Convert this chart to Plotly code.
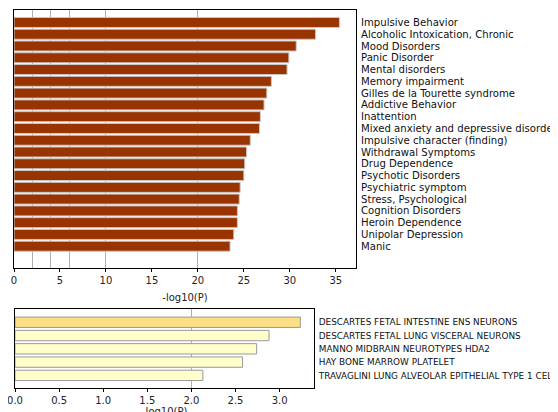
import plotly.graph_objects as go

# ---- data ----
top_terms = [
    "Impulsive Behavior", "Alcoholic Intoxication, Chronic", "Mood Disorders",
    "Panic Disorder", "Mental disorders", "Memory impairment",
    "Gilles de la Tourette syndrome", "Addictive Behavior", "Inattention",
    "Mixed anxiety and depressive disorder", "Impulsive character (finding)",
    "Withdrawal Symptoms", "Drug Dependence", "Psychotic Disorders",
    "Psychiatric symptom", "Stress, Psychological", "Cognition Disorders",
    "Heroin Dependence", "Unipolar Depression", "Manic",
]
top_values = [35.4, 32.8, 30.7, 29.9, 29.7, 28.0, 27.5, 27.2, 26.8, 26.7,
              25.7, 25.3, 25.1, 25.0, 24.6, 24.5, 24.3, 24.3, 23.9, 23.5]

bottom_terms = [
    "DESCARTES FETAL INTESTINE ENS NEURONS",
    "DESCARTES FETAL LUNG VISCERAL NEURONS",
    "MANNO MIDBRAIN NEUROTYPES HDA2",
    "HAY BONE MARROW PLATELET",
    "TRAVAGLINI LUNG ALVEOLAR EPITHELIAL TYPE 1 CELL",
]
bottom_values = [3.235, 2.88, 2.74, 2.58, 2.13]
bottom_colors = ["#fddf86", "#ffffcc", "#ffffcc", "#ffffcc", "#ffffcc"]

top_ticks = [0, 5, 10, 15, 20, 25, 30, 35]
top_grid = [2, 4, 6, 10, 20]
bottom_ticks = [0.0, 0.5, 1.0, 1.5, 2.0, 2.5, 3.0]
bottom_grid = [2.0]
x_title = "-log10(P)"

# page body has an 8px margin: the figure is drawn from (8, 8) to (558, 412)
OFF = 8
W, H = 558 - OFF, 412 - OFF
FONT = "DejaVu Sans"


def fx(px):
    return (px - OFF) / W


def fy(py):
    return 1 - (py - OFF) / H


fig = go.Figure()
fig.add_trace(go.Bar(
    x=top_values, y=top_terms, orientation="h",
    marker=dict(color="#993300", line=dict(color="#c8c8c8", width=1)),
    xaxis="x", yaxis="y", showlegend=False,
))
fig.add_trace(go.Bar(
    x=bottom_values, y=bottom_terms, orientation="h",
    marker=dict(color=bottom_colors, line=dict(color="#999999", width=1)),
    xaxis="x2", yaxis="y2", showlegend=False, width=0.78,
))


def xa(domain, rng, ticks, grid, fmt, anchor, title, standoff):
    d = dict(
        domain=domain, range=rng, anchor=anchor, automargin=False,
        tickmode="array", tickvals=ticks, tickformat=fmt,
        ticklabeloverflow="allow",
        showline=True, linecolor="black", linewidth=1, mirror=True,
        ticks="outside", ticklen=3, tickcolor="black",
        showgrid=False, zeroline=False,
        minor=dict(tickvals=grid, showgrid=True, gridcolor="#b0b0b0",
                   gridwidth=1, ticks=""),
        tickfont=dict(family=FONT, size=10, color="#222222"),
    )
    if title:
        d["title"] = dict(text=title, font=dict(family=FONT, size=10, color="#222222"),
                          standoff=standoff)
    return d


def ya(domain, rng, anchor, size, cats):
    return dict(
        domain=domain, range=rng, anchor=anchor, side="right", automargin=False,
        type="category", tickmode="array", tickvals=cats, ticktext=cats,
        ticklabeloverflow="allow",
        showline=True, linecolor="black", linewidth=1, mirror=True,
        ticks="", showgrid=False, zeroline=False,
        ticklabelstandoff=2,
        tickfont=dict(family=FONT, size=size, color="#111111"),
    )


fig.update_layout(
    width=W, height=H,
    margin=dict(l=0, r=0, t=0, b=0),
    paper_bgcolor="white", plot_bgcolor="white",
    bargap=0.15,
    xaxis=xa([fx(14), fx(356)], [0, 37.2], top_ticks, top_grid, "d", "y", x_title, 8),
    yaxis=ya([fy(268), fy(9.5)], [20.85, -1.1], "x", 10.15, top_terms),
    xaxis2=xa([fx(15), fx(314)], [0, 3.39], bottom_ticks, bottom_grid, ".1f", "y2", None, 0),
    yaxis2=ya([fy(388), fy(309)], [4.95, -1.0], "x2", 8.9, bottom_terms),
    annotations=[dict(
        text=x_title, xref="paper", yref="paper",
        x=(fx(15) + fx(314)) / 2, y=fy(411), xanchor="center", yanchor="middle",
        showarrow=False, font=dict(family=FONT, size=10, color="#222222"),
    )],
)

fig.write_html("out.html")
